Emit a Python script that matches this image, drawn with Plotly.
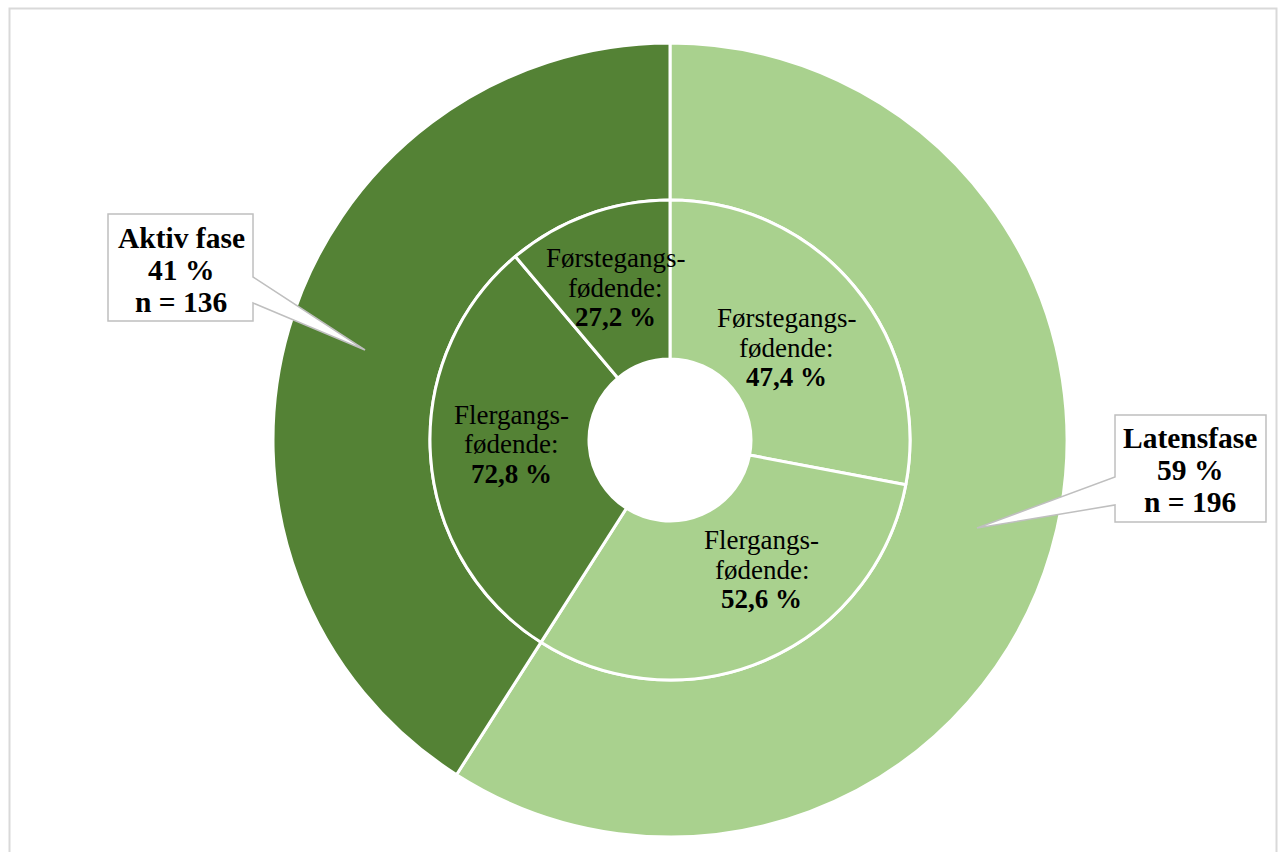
import plotly.graph_objects as go

# ---------------- data ----------------
phase_names = ["Latensfase", "Aktiv fase"]
phase_n = [196, 136]
phase_pct = [59, 41]

sub_names = ["Førstegangs-<br>fødende:", "Flergangs-<br>fødende:", "Flergangs-<br>fødende:", "Førstegangs-<br>fødende:"]
sub_parent = [0, 0, 1, 1]
sub_pct = [47.4, 52.6, 72.8, 27.2]

# ---------------- style ----------------
W, H = 1278, 852
LIGHT = "#A9D18E"
DARK = "#548235"
phase_colors = [LIGHT, DARK]
FONT = "Liberation Serif, Times New Roman, serif"

cx, cy = 670, 440       # centre in px
R_out, R_in, R_hole = 397, 240, 81


def dom(r):
    return dict(x=[(cx - r) / W, (cx + r) / W],
                y=[(H - cy - r) / H, (H - cy + r) / H])


def px(x, y):
    return x / W, 1 - y / H


sub_values = [phase_n[p] * v / 100 for p, v in zip(sub_parent, sub_pct)]
sub_colors = [phase_colors[p] for p in sub_parent]

fig = go.Figure()
fig.add_trace(go.Pie(
    values=phase_n, labels=phase_names, sort=False, direction="clockwise",
    rotation=0, hole=R_in / R_out, domain=dom(R_out),
    marker=dict(colors=phase_colors, line=dict(color="white", width=3)),
    textinfo="none", hoverinfo="label+percent", showlegend=False,
))
fig.add_trace(go.Pie(
    values=sub_values, labels=[f"s{i}" for i in range(len(sub_values))],
    sort=False, direction="clockwise", rotation=0,
    hole=R_hole / R_in, domain=dom(R_in),
    marker=dict(colors=sub_colors, line=dict(color="white", width=3)),
    textinfo="none", hoverinfo="percent", showlegend=False,
))

annotations = []
shapes = []

# chart-area border
shapes.append(dict(type="rect", xref="paper", yref="paper",
                   x0=9.5 / W, x1=1276.5 / W, y0=-0.05, y1=1 - 8.5 / H,
                   line=dict(color="#d9d9d9", width=2), fillcolor="rgba(0,0,0,0)",
                   layer="below"))

# inner labels (centre of first line, px)
sub_label_pos = [(786, 318), (762, 540), (511, 415), (615, 258)]
line_gap = 29.5
for name, pct, (lx, ly) in zip(sub_names, sub_pct, sub_label_pos):
    lines = name.split("<br>") + ["<b>" + f"{pct:.1f}".replace(".", ",") + " %</b>"]
    for i, t in enumerate(lines):
        x, y = px(lx, ly + i * line_gap)
        annotations.append(dict(x=x, y=y, xref="paper", yref="paper", text=t,
                                showarrow=False, xanchor="center", yanchor="middle",
                                font=dict(family=FONT, size=27, color="black")))

# callouts: box (x0,y0,x1,y1), wedge side, wedge y-range / tip
callouts = [
    # Latensfase
    dict(box=(1115, 415, 1266, 522), side="left", w=(477, 505), tip=(977, 528), tx=1190, ty=438),
    # Aktiv fase
    dict(box=(108, 214, 253, 321), side="right", w=(277, 303), tip=(365, 350), tx=181, ty=238),
]
for c, name, n, pct in zip(callouts, phase_names, phase_n, phase_pct):
    x0, y0, x1, y1 = c["box"]
    wa, wb = c["w"]
    tx_, ty_ = c["tip"]
    if c["side"] == "right":
        pts = [(x0, y0), (x1, y0), (x1, wa), (tx_, ty_), (x1, wb), (x1, y1), (x0, y1)]
    else:
        pts = [(x0, y0), (x1, y0), (x1, y1), (x0, y1), (x0, wb), (tx_, ty_), (x0, wa)]
    path = ""
    for i, (a, b) in enumerate(pts):
        X, Y = px(a, b)
        path += ("M" if i == 0 else " L") + f" {X:.5f},{Y:.5f}"
    path += " Z"
    shapes.append(dict(type="path", xref="paper", yref="paper", path=path,
                       fillcolor="white", line=dict(color="#bfbfbf", width=1.5),
                       layer="above"))
    lines = [name, f"{pct} %", f"n = {n}"]
    for i, t in enumerate(lines):
        x, y = px(c["tx"], c["ty"] + i * 32)
        annotations.append(dict(x=x, y=y, xref="paper", yref="paper", text=f"<b>{t}</b>",
                                showarrow=False, xanchor="center", yanchor="middle",
                                font=dict(family=FONT, size=29.5, color="black")))

fig.update_layout(
    width=W, height=H, margin=dict(l=0, r=0, t=0, b=0),
    paper_bgcolor="white", plot_bgcolor="white",
    annotations=annotations, shapes=shapes, showlegend=False,
)

fig.write_html("out.html")
